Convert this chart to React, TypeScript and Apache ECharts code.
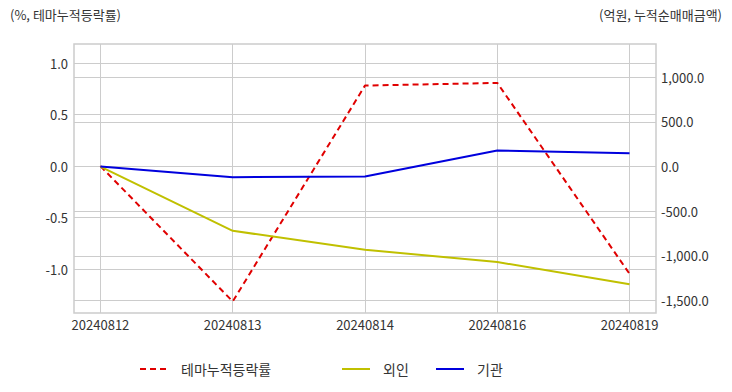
import React, { useEffect, useRef } from "react";
import * as echarts from "echarts";

const dates = ["20240812", "20240813", "20240814", "20240816", "20240819"];
const themeRate = [0, -1.315, 0.783, 0.809, -1.046];
const foreign = [0, -720, -932, -1070, -1320];
const institution = [0, -119, -112, 179, 150];
const leftTicks = [-1, -0.5, 0, 0.5, 1];
const rightTicks = [-1500, -1000, -500, 0, 500, 1000];
const xTicks = [0, 1, 2, 3, 4];

const fmtComma = (v: number) => {
  const s = Math.abs(v).toFixed(1);
  const [i, d] = s.split(".");
  const withComma = i.replace(/\B(?=(\d{3})+(?!\d))/g, ",");
  return (v < 0 ? "-" : "") + withComma + "." + d;
};

const FONT = "'Noto Sans CJK KR', 'Noto Sans', sans-serif";

const legendBase = {
  top: 362,
  padding: 0,
  itemWidth: 28,
  itemHeight: 14,
  itemStyle: { opacity: 0 },
  textStyle: { color: "#333", fontSize: 14, fontFamily: FONT, padding: [0, 0, 0, 8] },
};

export default function App() {
  const ref = useRef<HTMLDivElement>(null);
  useEffect(() => {
    if (!ref.current) return;
    const chart = echarts.init(ref.current, undefined, { renderer: "svg" });
    const toPairs = (arr: number[]) => arr.map((v, i) => [i, v]);
    chart.setOption({
      animation: false,
      textStyle: { fontFamily: FONT },
      grid: {
        left: 74,
        right: 76,
        top: 44,
        bottom: 79,
        show: true,
        borderColor: "#cccccc",
        borderWidth: 1.5,
      },
      graphic: [
        {
          type: "text",
          left: 10,
          top: 8,
          style: { text: "(%, 테마누적등락률)", fill: "#333", fontSize: 13, fontFamily: FONT },
        },
        {
          type: "text",
          right: 10,
          top: 8,
          style: { text: "(억원, 누적순매매금액)", fill: "#333", fontSize: 13, fontFamily: FONT },
        },
      ],
      legend: [
        { ...legendBase, data: ["테마누적등락률"], left: 139 },
        { ...legendBase, data: ["외인"], left: 341 },
        { ...legendBase, data: ["기관"], left: 435 },
      ],
      xAxis: {
        type: "value",
        min: -0.2,
        max: 4.2,
        axisLine: { show: false },
        axisTick: { show: false, customValues: xTicks },
        axisLabel: {
          customValues: xTicks,
          formatter: (v: number) => dates[Math.round(v)] ?? "",
          color: "#333",
          fontSize: 13,
          margin: 5,
        },
        splitLine: { show: true, lineStyle: { color: "#cccccc", width: 1 } },
      },
      yAxis: [
        {
          type: "value",
          min: -1.427,
          max: 1.187,
          axisLine: { show: false },
          axisTick: { show: false, customValues: leftTicks },
          axisLabel: {
            customValues: leftTicks,
            formatter: (v: number) => v.toFixed(1),
            color: "#333",
            fontSize: 13,
            margin: 6,
          },
          splitLine: { show: true, lineStyle: { color: "#cccccc", width: 1 } },
        },
        {
          type: "value",
          min: -1641,
          max: 1373,
          position: "right",
          axisLine: { show: false },
          axisTick: { show: false, customValues: rightTicks },
          axisLabel: {
            customValues: rightTicks,
            formatter: (v: number) => fmtComma(v),
            color: "#333",
            fontSize: 13,
            margin: 5,
          },
          splitLine: { show: true, lineStyle: { color: "#cccccc", width: 1 } },
        },
      ],
      series: [
        {
          name: "테마누적등락률",
          type: "line",
          yAxisIndex: 0,
          data: toPairs(themeRate),
          symbol: "none",
          lineStyle: { color: "#e00000", width: 2, type: [6, 4] },
          itemStyle: { color: "#e00000" },
        },
        {
          name: "외인",
          type: "line",
          yAxisIndex: 1,
          data: toPairs(foreign),
          symbol: "none",
          lineStyle: { color: "#c0c000", width: 2 },
          itemStyle: { color: "#c0c000" },
        },
        {
          name: "기관",
          type: "line",
          yAxisIndex: 1,
          data: toPairs(institution),
          symbol: "none",
          lineStyle: { color: "#0000dd", width: 2 },
          itemStyle: { color: "#0000dd" },
        },
      ],
    });
    return () => chart.dispose();
  }, []);
  return <div ref={ref} style={{ width: 732, height: 392, margin: -8 }} />;
}
